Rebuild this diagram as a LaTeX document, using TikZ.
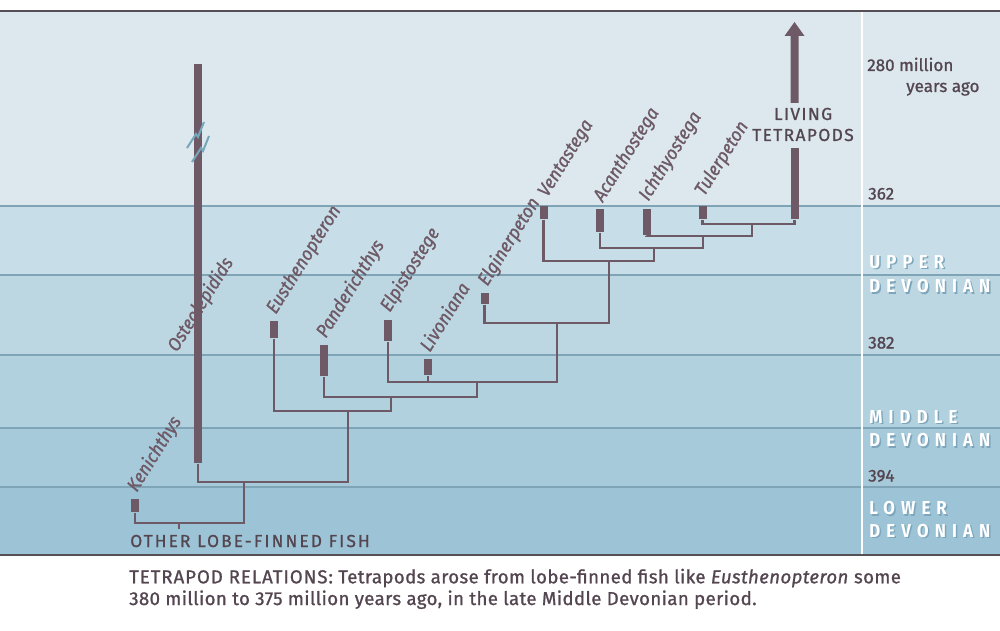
\documentclass[tikz,border=0pt]{standalone}
\usepackage{fontspec}
\setmainfont{Fira Sans}[FakeBold=1]
\newfontfamily\taxonfont{Fira Sans}[FakeStretch=0.93,FakeBold=1]
\newfontfamily\spacedfont{Fira Sans}[LetterSpace=12,FakeBold=1]
\newfontfamily\livingfont{Fira Sans}[LetterSpace=8,FakeBold=1]
\newfontfamily\captionfont{Fira Sans}[LetterSpace=2,FakeBold=1]
\newfontfamily\captioncaps{Fira Sans}[LetterSpace=5,FakeBold=1]
\newfontfamily\periodfont{Fira Sans}[FakeStretch=0.9,LetterSpace=33]

\definecolor{tree}{RGB}{110,90,102}
\definecolor{ink}{RGB}{84,70,80}
\definecolor{bandA}{RGB}{220,232,238}
\definecolor{bandB}{RGB}{199,221,231}
\definecolor{bandC}{RGB}{189,215,226}
\definecolor{bandD}{RGB}{178,209,222}
\definecolor{bandE}{RGB}{167,202,219}
\definecolor{bandF}{RGB}{157,196,214}
\definecolor{rule}{RGB}{126,164,181}
\definecolor{frame}{RGB}{85,80,85}
\definecolor{breakmark}{RGB}{118,166,186}
\definecolor{shade}{RGB}{125,166,188}

\begin{document}
\begin{tikzpicture}[x=0.75pt,y=-0.75pt,
  branch/.style={draw=tree,line width=2pt,line join=miter},
  bar/.style={fill=tree,inner sep=0pt,minimum width=6pt,minimum height={#1*0.75pt},anchor=north},
  taxon/.style={text=tree,font=\taxonfont\fontsize{14pt}{16pt}\selectfont\itshape,rotate=58,anchor=base west,inner sep=0pt},
  agelabel/.style={text=ink,font=\fontsize{12.8pt}{14pt}\selectfont,anchor=base west,inner sep=0pt},
  periodtext/.style={font=\periodfont\bfseries\fontsize{14pt}{16pt}\selectfont,anchor=base west,inner sep=0pt},
  spaced/.style={text=ink,font=\spacedfont\fontsize{13pt}{15.75pt}\selectfont,inner sep=0pt},
  caption/.style={text=ink,font=\captionfont\fontsize{14pt}{16pt}\selectfont,anchor=base west,inner sep=0pt}]

\useasboundingbox (0,0) rectangle (1000,631);
\fill[white] (0,0) rectangle (1000,631);

% time bands, light (young) to dark (old)
\fill[bandA] (0,11) rectangle (1000,206);
\fill[bandB] (0,206) rectangle (1000,275);
\fill[bandC] (0,275) rectangle (1000,355);
\fill[bandD] (0,355) rectangle (1000,428);
\fill[bandE] (0,428) rectangle (1000,487);
\fill[bandF] (0,487) rectangle (1000,555);
\foreach \yy in {206,275,355,428,487}
  \draw[rule,line width=1.3pt] (0,\yy) -- (1000,\yy);
\draw[white,line width=1.3pt] (862,11) -- (862,555);
\draw[frame,line width=1.3pt] (0,11) -- (1000,11);
\draw[frame,line width=1.6pt] (0,555) -- (1000,555);

% range bars of the taxa
\node[bar=13]  (ken) at (135,499) {};
\node[bar=399] (ost) at (198,64) {};
\node[bar=17]  (eus) at (274,321) {};
\node[bar=31]  (pan) at (324,345) {};
\node[bar=21]  (elp) at (388,320) {};
\node[bar=16]  (liv) at (428,359) {};
\node[bar=11]  (elg) at (484.5,293) {};
\node[bar=13]  (ven) at (543.5,206) {};
\node[bar=23]  (aca) at (600,209) {};
\node[bar=26]  (ich) at (646.5,209) {};
\node[bar=13]  (tul) at (702.5,206) {};
\node[bar=71]  (tet) at (794.5,148) {};

% upper part of the living-tetrapod bar with its arrow head
\fill[tree] (790.5,103) -- (790.5,36) -- (784.5,36) -- (794.5,22)
  -- (804.5,36) -- (798.5,36) -- (798.5,103) -- cycle;

% break marks on the long osteolepidid range
\draw[breakmark,line width=1.5pt] (187,148) -- (196,134) -- (198,137) -- (204,122);
\draw[breakmark,line width=1.5pt] (192,162) -- (201,148) -- (203,151) -- (209,136);

% branching points of the tree
\coordinate (n1) at (179,523);
\coordinate (root) at (179,529);
\coordinate (n2) at (244,482);
\coordinate (n3) at (348,411);
\coordinate (n4) at (391,397);
\coordinate (n5) at (477,382);
\coordinate (n6) at (557,323);
\coordinate (n7) at (609,261);
\coordinate (n8) at (654,248);
\coordinate (n9) at (703,236);
\coordinate (n10) at (752,224);

\draw[branch] (root) -- (n1);
\draw[branch] (ken.south) |- (n1) -| (n2);
\draw[branch] (ost.south) |- (n2) -| (n3);
\draw[branch] (eus.south) |- (n3) -| (n4);
\draw[branch] (pan.south) |- (n4) -| (n5);
\draw[branch] (elp.south) |- (n5) -| (n6);
\draw[branch] (liv.south) -- (liv.south |- n5);
\draw[branch] (elg.south) |- (n6) -| (n7);
\draw[branch] (ven.south) |- (n7) -| (n8);
\draw[branch] (aca.south) |- (n8) -| (n9);
\draw[branch] (ich.south) |- (n9) -| (n10);
\draw[branch] (tul.south) |- (n10) -| (tet.south);

% taxon names
\node[taxon] (ken-l) at ([shift={(6,-6)}]ken.north west) {Kenichthys};
\node[taxon] (ost-l) at (177,353) {Osteolepidids};
\node[taxon] (eus-l) at ([shift={(6,-6)}]eus.north west) {Eusthenopteron};
\node[taxon] (pan-l) at ([shift={(6,-6)}]pan.north west) {Panderichthys};
\node[taxon] (elp-l) at ([shift={(6,-7)}]elp.north west) {Elpistostege};
\node[taxon] (liv-l) at ([shift={(6,-6)}]liv.north west) {Livoniana};
\node[taxon] (elg-l) at ([shift={(7,-6)}]elg.north west) {Elginerpeton};
\node[taxon] (ven-l) at ([shift={(8,-8)}]ven.north west) {Ventastega};
\node[taxon] (aca-l) at ([shift={(7,-6)}]aca.north west) {Acanthostega};
\node[taxon] (ich-l) at ([shift={(6,-7)}]ich.north west) {Ichthyostega};
\node[taxon] (tul-l) at ([shift={(6,-9)}]tul.north west) {Tulerpeton};

\node[text=ink,font=\livingfont\fontsize{13pt}{15.75pt}\selectfont,inner sep=0pt,align=center] (tet-l) at (803,124.5) {LIVING\\TETRAPODS};
\node[spaced,anchor=base west] (fish-l) at (130,547) {OTHER LOBE-FINNED FISH};

% time scale
\node[agelabel] (t280) at (867,71) {280 million};
\node[agelabel] (t280b) at (906,92) {years ago};
\node[agelabel] (t362) at (868,199.5) {362};
\node[agelabel] (t382) at (868,348.5) {382};
\node[agelabel] (t394) at (868,481.5) {394};

% period names, white with a soft drop shade
\foreach \txt/\yy [count=\i] in {UPPER/268,DEVONIAN/292.5,MIDDLE/423,DEVONIAN/446.5,LOWER/514.5,DEVONIAN/537}{
  \node[periodtext,text=shade] (per-s\i) at (870.5,\yy+1.5) {\txt};
  \node[periodtext,text=white] (per\i) at (869,\yy) {\txt};
}

% caption
\node[caption] (cap1) at (129,583.3) {{\captioncaps TETRAPOD RELATIONS:} Tetrapods arose from lobe-finned fish like \textit{Eusthenopteron} some};
\node[caption] (cap2) at (129,605) {380 million to 375 million years ago, in the late Middle Devonian period.};
\end{tikzpicture}
\end{document}
